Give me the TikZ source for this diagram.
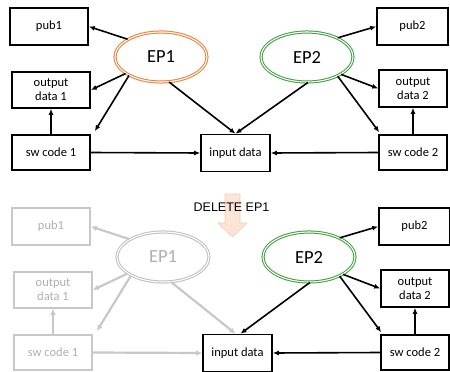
\documentclass[tikz,border=0pt]{standalone}
\usepackage{fontspec}
\setmainfont{Carlito}
\newfontfamily\labelsans{Liberation Sans}
\usetikzlibrary{arrows.meta,shapes.geometric}

\definecolor{eporange}{RGB}{237,125,49}
\definecolor{epgreen}{RGB}{60,160,60}
\definecolor{fadeline}{RGB}{200,200,200}
\definecolor{fadetext}{RGB}{175,175,175}
\definecolor{fadeep}{RGB}{190,190,190}
\definecolor{peach}{RGB}{252,229,214}
\definecolor{peachedge}{RGB}{235,205,190}

\tikzset{
  databox/.style={draw=black, line width=1.6pt, minimum width=#1, minimum height=36pt,
    inner sep=1pt, align=center, font=\fontsize{12.5}{14}\selectfont},
  databox/.default=78pt,
  fadebox/.style={databox=#1, draw=fadeline, text=fadetext},
  fadebox/.default=78pt,
  epnode/.style={ellipse, minimum width=92pt, minimum height=50pt, inner sep=0pt,
    draw=#1, double=white, line width=1pt, double distance=1.1pt,
    font=\fontsize{18.5}{20}\selectfont},
  link/.style={-{Latex[length=6pt,width=5pt]}, line width=1.6pt, black},
  fadelink/.style={-{Latex[length=6pt,width=5.5pt]}, line width=2.2pt, fadeline},
}

\begin{document}
\begin{tikzpicture}[x=1pt, y=-1pt]
\useasboundingbox (0,0) rectangle (450,372);

% ---------- upper diagram ----------
\node[databox, minimum height=37pt] (pubA) at (49,26.5) {pub1};
\node[databox] (outA) at (51,90) {output\\data 1};
\node[databox, minimum height=35pt] (swA) at (51,152.5) {sw code 1};
\node[databox=69pt, minimum height=37pt] (inA) at (235.5,153) {input data};
\node[databox=71pt, minimum height=37pt] (pubB) at (412.5,26.5) {pub2};
\node[databox=68pt, minimum height=37pt] (outB) at (413,88.5) {output\\data 2};
\node[databox=68pt, minimum height=35pt] (swB) at (413,152.5) {sw code 2};
\node[epnode=eporange] (epA) at (161,57) {EP1};
\node[epnode=epgreen] (epB) at (307,57) {EP2};

\draw[link] (epA.152) -- (pubA.east);
\draw[link] (epA.205) -- (outA.east);
\draw[link] (epA.210) -- ([shift={(4pt,3pt)}]swA.north east);
\draw[link] (epA.288) -- (inA.north);
\draw[link] (swA.north) -- (outA.south);
\draw[link] (swA.east) -- (inA.west);
\draw[link] (epB.32) -- (pubB.west);
\draw[link] (epB.333) -- (outB.west);
\draw[link] (epB.328) -- ([shift={(1pt,2pt)}]swB.north west);
\draw[link] (epB.272) -- (inA.north);
\draw[link] (swB.north) -- (outB.south);
\draw[link] (swB.west) -- (inA.east);

% ---------- deletion marker ----------
\draw[fill=peach, draw=peachedge, line width=0.6pt]
  (225,194) -- (240,194) -- (240,223) -- (247,223) -- (232.5,237)
  -- (218,223) -- (225,223) -- cycle;
\node[font=\labelsans\fontsize{12.5}{14}\selectfont, inner sep=0pt] (deltext) at (231.5,207) {DELETE EP1};

% ---------- lower diagram ----------
\begin{scope}[xshift=2pt, yshift=-200pt]
\node[fadebox, minimum height=37pt] (pubC) at (49,26.5) {pub1};
\node[fadebox] (outC) at (51,90) {output\\data 1};
\node[fadebox, minimum height=35pt] (swC) at (51,152.5) {sw code 1};
\node[databox=69pt, minimum height=37pt] (inC) at (235.5,153) {input data};
\node[databox=71pt, minimum height=37pt] (pubD) at (412.5,26.5) {pub2};
\node[databox=68pt, minimum height=37pt] (outD) at (413,88.5) {output\\data 2};
\node[databox=68pt, minimum height=35pt] (swD) at (413,152.5) {sw code 2};
\node[epnode=fadeep, text=fadetext] (epC) at (161,57) {EP1};
\node[epnode=epgreen] (epD) at (307,57) {EP2};

\draw[fadelink] (epC.152) -- (pubC.east);
\draw[fadelink] (epC.205) -- (outC.east);
\draw[fadelink] (epC.210) -- ([shift={(4pt,3pt)}]swC.north east);
\draw[fadelink] (epC.288) -- ([xshift=-2pt]inC.north);
\draw[fadelink] (swC.north) -- (outC.south);
\draw[fadelink] (swC.east) -- (inC.west);
\draw[link] (epD.32) -- (pubD.west);
\draw[link] (epD.333) -- (outD.west);
\draw[link] (epD.328) -- ([shift={(1pt,2pt)}]swD.north west);
\draw[link] (epD.272) -- ([xshift=3pt]inC.north);
\draw[link] (swD.north) -- (outD.south);
\draw[link] (swD.west) -- (inC.east);
\end{scope}
\end{tikzpicture}
\end{document}
